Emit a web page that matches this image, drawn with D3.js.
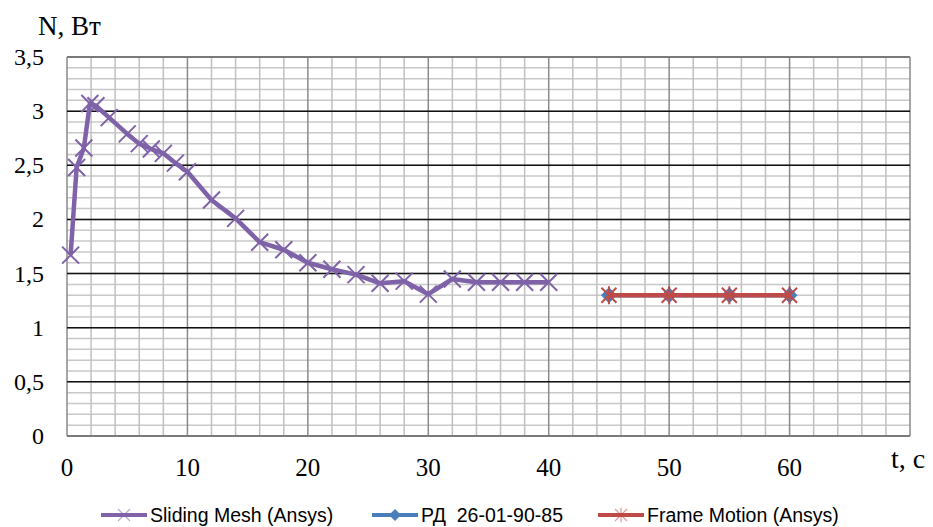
<!DOCTYPE html>
<html lang="ru">
    <head>
        <meta charset="utf-8">
        <title>N(t)</title>
        <script src="https://d3js.org/d3.v7.min.js"></script>
        <style>
            body { margin: 0; background: #fff; }
            text { white-space: pre; }
        </style>
    </head>
    <body>
    <div id="mainDiv"></div>

        <script type="text/javascript">
            // series
            const slidingT = [0.3, 0.8, 1.4, 1.9, 2.4, 3.5, 5, 6, 7, 8, 9, 10, 12, 14, 16, 18, 20, 22, 24, 26, 28, 30, 32, 34, 36, 38, 40]
            const slidingN = [1.67, 2.48, 2.66, 3.07, 3.05, 2.94, 2.79, 2.70, 2.65, 2.61, 2.52, 2.44, 2.18, 2.01, 1.79, 1.72, 1.60, 1.54, 1.49, 1.41, 1.43, 1.31, 1.45, 1.42, 1.42, 1.42, 1.42]
            const rdT = [45, 50, 55, 60]
            const rdN = [1.3, 1.3, 1.3, 1.3]
            const frameT = [45, 50, 55, 60]
            const frameN = [1.3, 1.3, 1.3, 1.3]

            const xTicks = [0, 10, 20, 30, 40, 50, 60]
            const yTicks = [0, 0.5, 1, 1.5, 2, 2.5, 3, 3.5]
            const legendLabels = ['Sliding Mesh (Ansys)', 'РД  26-01-90-85', 'Frame Motion (Ansys)']

            const width = 933
            const height = 527
            const purple = '#7f62a8'
            const blue = '#4a7ebb'
            const red = '#be4b48'

            const svg = d3.select('#mainDiv').append('svg')
                .attr('width', width)
                .attr('height', height)

            const xScale = d3.scaleLinear().domain([0, 70]).range([67, 910])
            const yScale = d3.scaleLinear().domain([0, 3.5]).range([436, 57])

            const grid = svg.append('g')

            // minor grid
            grid.selectAll('.hmin')
                .data(d3.range(0, 36).map(i => i / 10))
                .enter().append('line')
                .attr('x1', xScale(0)).attr('x2', xScale(70))
                .attr('y1', d => yScale(d)).attr('y2', d => yScale(d))
                .attr('stroke', '#c8c8c8').attr('stroke-width', 1.5)
            grid.selectAll('.vmin')
                .data(d3.range(0, 36).map(i => i * 2))
                .enter().append('line')
                .attr('x1', d => xScale(d)).attr('x2', d => xScale(d))
                .attr('y1', yScale(0)).attr('y2', yScale(3.5))
                .attr('stroke', d => d % 10 === 0 ? '#8a8a8a' : '#c0c0c0')
                .attr('stroke-width', 1.5)
            // major horizontal lines
            grid.selectAll('.hmaj')
                .data(yTicks)
                .enter().append('line')
                .attr('x1', xScale(0)).attr('x2', xScale(70))
                .attr('y1', d => yScale(d)).attr('y2', d => yScale(d))
                .attr('stroke', d => (d === 0 || d === 3.5) ? '#7a7a7a' : '#111')
                .attr('stroke-width', d => (d === 0 || d === 3.5) ? 2 : 1.5)

            // tick labels
            const fmt = d => String(d).replace('.', ',')
            svg.append('g').selectAll('text')
                .data(yTicks)
                .enter().append('text')
                .attr('x', 44)
                .attr('y', d => yScale(d) + 8)
                .attr('text-anchor', 'end')
                .style('font', '24px "Liberation Serif", serif')
                .text(fmt)
            svg.append('g').selectAll('text')
                .data(xTicks)
                .enter().append('text')
                .attr('x', d => xScale(d))
                .attr('y', 476)
                .attr('text-anchor', 'middle')
                .style('font', '25px "Liberation Serif", serif')
                .text(fmt)

            svg.append('text')
                .attr('x', 38).attr('y', 35)
                .style('font', '27px "Liberation Serif", serif')
                .text('N, Вт')
            svg.append('text')
                .attr('x', 891).attr('y', 468)
                .style('font', '28px "Liberation Serif", serif')
                .text('t, c')

            // marker shapes
            const cross = s => `M${-s},${-s}L${s},${s}M${-s},${s}L${s},${-s}`
            const star = s => `M${-s},${-s}L${s},${s}M${-s},${s}L${s},${-s}M0,${-s * 1.2}L0,${s * 1.2}`
            const diamond = s => `M0,${-s}L${s},0L0,${s}L${-s},0Z`

            const line = d3.line().x(d => xScale(d[0])).y(d => yScale(d[1]))
            const plot = svg.append('g')

            function drawSeries(ts, ns, color, marker, size, filled) {
                const pts = ts.map((t, i) => [t, ns[i]])
                plot.append('path')
                    .datum(pts)
                    .attr('d', line)
                    .attr('fill', 'none')
                    .attr('stroke', color)
                    .attr('stroke-width', 4.5)
                    .attr('stroke-linejoin', 'round')
                plot.append('g').selectAll('path')
                    .data(pts)
                    .enter().append('path')
                    .attr('transform', d => `translate(${xScale(d[0])},${yScale(d[1])})`)
                    .attr('d', marker(size))
                    .attr('fill', filled ? color : 'none')
                    .attr('stroke', color)
                    .attr('stroke-width', filled ? 0 : 2)
            }

            drawSeries(slidingT, slidingN, purple, cross, 8.5, false)
            drawSeries(rdT, rdN, blue, diamond, 8, true)
            drawSeries(frameT, frameN, red, star, 7.5, false)

            // legend
            const legendColors = [purple, blue, red]
            const legendMarks = [cross, diamond, star]
            const legendX = [101, 372, 598]
            const legend = svg.append('g')
            legendLabels.forEach((label, i) => {
                const g = legend.append('g').attr('transform', `translate(${legendX[i]},515)`)
                g.append('line')
                    .attr('x1', 0).attr('x2', 46)
                    .attr('stroke', legendColors[i]).attr('stroke-width', 4)
                g.append('path')
                    .attr('transform', 'translate(23,0)')
                    .attr('d', legendMarks[i](6))
                    .attr('fill', i === 1 ? legendColors[i] : 'none')
                    .attr('stroke', legendColors[i])
                    .attr('stroke-opacity', i === 1 ? 1 : 0.55)
                    .attr('stroke-width', i === 1 ? 0 : 1.2)
                g.append('text')
                    .attr('x', 49).attr('y', 7)
                    .style('font', '19.5px "Liberation Sans", sans-serif')
                    .text(label)
            })
        </script>
    </body>
</html>
